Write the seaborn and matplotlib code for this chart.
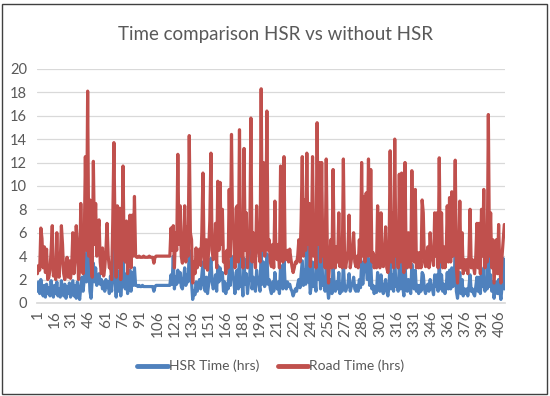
import numpy as np
import pandas as pd
import matplotlib
matplotlib.use('Agg')
import matplotlib.pyplot as plt
import seaborn as sns
from matplotlib.patches import Rectangle

# values, one per trip (index 1..410)
road_time = [
    2.5, 3.2, 2.8, 6.4, 5.5, 3.0, 4.8, 2.6, 4.6, 2.0,
    2.2, 2.8, 4.5, 6.6, 2.3, 3.0, 2.0, 6.0, 2.4, 2.2,
    3.5, 6.6, 5.0, 2.5, 2.0, 3.2, 3.9, 2.2, 3.6, 2.1,
    3.0, 6.0, 2.5, 3.8, 6.6, 5.0, 2.0, 2.8, 8.5, 4.0,
    2.5, 5.0, 12.5, 4.5, 18.1, 4.0, 8.8, 3.5, 2.2, 12.1,
    5.0, 8.5, 4.0, 6.0, 7.1, 3.5, 2.5, 4.7, 2.3, 3.0,
    4.5, 6.8, 4.0, 3.0, 3.3, 2.0, 7.0, 13.7, 6.0, 2.2,
    8.3, 3.0, 8.1, 2.0, 4.5, 11.7, 4.0, 3.5, 7.0, 2.5,
    5.5, 7.5, 3.0, 7.5, 4.0, 9.1, 4.0, 3.9, 3.9, 4.0,
    3.9, 3.9, 3.9, 4.0, 3.9, 3.9, 3.9, 3.9, 4.0, 3.9,
    3.9, 3.9, 3.4, 3.9, 4.0, 4.0, 4.0, 4.0, 4.0, 4.0,
    4.0, 4.0, 4.0, 4.0, 4.0, 4.0, 4.0, 6.4, 4.5, 6.6,
    3.0, 6.0, 4.5, 12.7, 5.0, 8.3, 4.0, 3.4, 5.0, 8.3,
    3.5, 6.5, 4.0, 14.3, 6.0, 5.4, 1.7, 3.5, 2.5, 4.7,
    3.0, 4.0, 4.6, 3.2, 6.0, 11.1, 4.0, 3.0, 5.4, 2.8,
    4.5, 7.0, 12.8, 4.5, 3.7, 4.0, 6.8, 3.0, 10.4, 4.5,
    10.3, 5.0, 8.0, 3.5, 4.3, 2.5, 4.5, 3.0, 9.7, 4.0,
    14.4, 6.0, 5.4, 3.0, 8.1, 8.3, 3.5, 14.8, 4.0, 5.4,
    3.0, 13.2, 4.5, 7.7, 3.0, 4.6, 5.0, 15.8, 3.5, 6.0,
    4.0, 3.0, 8.3, 5.0, 4.3, 3.5, 18.3, 4.5, 12.0, 4.0,
    5.0, 16.4, 4.5, 5.4, 3.5, 3.1, 5.0, 3.0, 8.7, 4.0,
    3.7, 5.0, 3.0, 11.7, 5.4, 3.5, 12.5, 4.0, 3.7, 4.5,
    3.5, 4.6, 3.8, 3.1, 2.6, 3.0, 3.5, 3.4, 4.0, 5.4,
    3.5, 7.0, 12.5, 4.0, 8.8, 4.5, 12.8, 5.0, 8.5, 3.1,
    4.5, 12.5, 4.0, 5.4, 3.0, 15.4, 5.0, 12.0, 3.5, 12.0,
    4.0, 5.4, 3.0, 12.3, 4.0, 1.7, 3.5, 5.4, 3.0, 11.4,
    4.0, 3.0, 4.8, 3.5, 7.7, 3.1, 4.5, 3.0, 12.3, 4.0,
    3.0, 3.7, 4.5, 7.5, 3.0, 3.7, 4.5, 6.0, 3.5, 3.1,
    4.0, 3.0, 5.4, 3.5, 12.0, 4.0, 9.1, 3.5, 9.4, 4.0,
    12.3, 4.0, 11.4, 3.5, 4.3, 3.0, 4.0, 3.0, 8.3, 3.5,
    3.0, 7.7, 3.5, 3.1, 4.0, 6.5, 3.0, 2.6, 4.0, 13.0,
    3.5, 7.7, 3.0, 14.0, 4.0, 6.0, 3.0, 11.0, 3.5, 11.1,
    4.0, 2.6, 12.0, 3.5, 3.0, 6.0, 3.7, 3.0, 11.3, 4.0,
    3.5, 9.7, 3.0, 4.3, 3.0, 4.3, 3.0, 8.8, 7.7, 3.5,
    3.1, 4.0, 4.8, 3.0, 6.0, 4.0, 3.7, 3.2, 7.7, 4.0,
    7.7, 3.0, 12.4, 3.5, 7.7, 3.0, 4.8, 3.0, 4.0, 8.3,
    3.5, 9.0, 3.5, 9.5, 4.0, 6.0, 12.2, 3.0, 1.7, 4.0,
    8.7, 3.0, 6.0, 2.5, 3.7, 2.8, 3.7, 2.5, 4.0, 8.0,
    3.0, 3.7, 3.1, 2.5, 4.0, 6.8, 3.0, 6.8, 2.5, 8.0,
    4.0, 9.7, 3.0, 5.4, 3.5, 16.1, 4.0, 7.7, 3.0, 5.4,
    1.7, 3.5, 5.4, 2.5, 6.7, 3.0, 1.7, 4.0, 5.4, 6.7,
]

hsr_time = [
    1.0, 1.8, 0.8, 2.0, 1.2, 0.6, 1.5, 0.5, 1.6, 0.8,
    1.3, 0.6, 1.9, 1.0, 0.5, 1.5, 0.8, 1.8, 0.6, 1.2,
    0.5, 1.9, 1.0, 0.6, 1.6, 0.4, 1.4, 0.8, 1.7, 0.5,
    1.2, 1.9, 0.6, 1.5, 0.4, 1.8, 0.9, 0.3, 1.4, 2.2,
    1.0, 2.0, 4.2, 1.8, 5.0, 3.5, 1.0, 0.4, 2.0, 3.4,
    1.8, 3.0, 1.5, 2.2, 2.5, 1.6, 2.0, 1.2, 1.8, 1.0,
    2.0, 1.3, 1.8, 0.8, 2.3, 1.0, 2.5, 5.2, 2.0, 0.5,
    2.8, 1.0, 2.6, 0.6, 1.8, 4.0, 1.5, 1.2, 2.5, 0.8,
    2.0, 2.8, 1.0, 2.6, 1.5, 3.0, 1.5, 1.5, 1.4, 1.5,
    1.4, 1.4, 1.5, 1.4, 1.4, 1.4, 1.4, 1.4, 1.4, 1.4,
    1.4, 1.4, 1.0, 1.4, 1.5, 1.5, 1.5, 1.5, 1.5, 1.5,
    1.5, 1.5, 1.5, 1.5, 1.5, 1.5, 1.5, 2.4, 1.6, 4.0,
    1.2, 2.2, 1.6, 2.8, 1.8, 2.6, 1.4, 1.2, 2.0, 3.0,
    1.5, 2.4, 1.8, 4.5, 2.5, 1.8, 0.3, 1.0, 0.7, 1.8,
    1.0, 1.6, 2.0, 1.2, 2.4, 3.5, 1.5, 1.0, 2.2, 0.8,
    1.6, 2.6, 3.8, 1.8, 1.2, 1.6, 2.4, 1.0, 3.2, 1.8,
    3.0, 2.0, 2.6, 1.0, 1.8, 0.8, 1.6, 1.2, 3.0, 1.5,
    4.0, 2.2, 2.0, 0.8, 2.6, 2.8, 1.2, 4.2, 1.4, 2.0,
    0.6, 3.8, 1.6, 2.5, 0.8, 1.8, 2.2, 6.2, 1.2, 2.2,
    1.5, 1.0, 2.8, 1.8, 1.6, 1.0, 4.6, 1.6, 3.5, 1.4,
    1.8, 4.2, 1.6, 2.0, 1.2, 0.8, 1.8, 1.0, 2.6, 1.5,
    1.2, 1.8, 0.8, 3.2, 2.0, 1.2, 3.6, 1.6, 1.2, 1.8,
    1.4, 1.6, 1.2, 1.0, 0.6, 0.9, 1.2, 1.0, 1.6, 2.0,
    1.3, 2.4, 3.6, 1.5, 2.8, 1.6, 7.8, 1.8, 3.0, 0.8,
    1.6, 3.5, 1.4, 2.0, 1.0, 6.2, 2.0, 3.6, 1.2, 4.4,
    1.5, 2.0, 1.0, 3.5, 1.4, 0.4, 1.2, 2.0, 0.8, 3.3,
    1.5, 1.0, 1.8, 1.2, 2.6, 0.8, 1.6, 1.0, 3.4, 1.4,
    1.0, 1.3, 1.6, 2.5, 1.0, 1.4, 1.6, 2.2, 1.2, 1.0,
    1.5, 1.0, 2.0, 1.3, 3.5, 1.6, 3.0, 4.8, 3.2, 2.0,
    3.8, 1.5, 3.4, 1.2, 1.5, 0.8, 1.4, 0.9, 2.6, 1.2,
    1.0, 2.4, 1.2, 0.8, 1.4, 2.0, 1.0, 0.6, 1.4, 3.8,
    1.2, 2.4, 1.0, 4.0, 1.4, 2.0, 1.0, 3.2, 1.2, 3.4,
    1.4, 0.6, 3.5, 1.2, 1.0, 2.0, 1.2, 0.8, 3.3, 1.4,
    1.2, 2.8, 1.0, 1.5, 0.8, 1.5, 1.0, 2.6, 2.4, 1.2,
    0.8, 1.4, 1.6, 1.0, 2.0, 1.4, 1.2, 0.7, 2.4, 1.4,
    2.4, 1.0, 3.6, 1.2, 2.4, 1.0, 1.6, 0.8, 1.4, 2.6,
    1.2, 2.8, 1.2, 3.0, 1.4, 2.0, 4.4, 1.0, 0.4, 1.4,
    2.6, 0.8, 2.0, 0.6, 1.2, 0.8, 1.2, 0.6, 1.4, 2.4,
    1.0, 1.2, 0.8, 0.6, 1.4, 2.2, 1.0, 2.2, 0.8, 2.4,
    1.4, 3.0, 1.0, 1.8, 1.2, 6.4, 1.4, 2.4, 1.0, 1.8,
    0.4, 1.2, 1.8, 0.8, 2.0, 1.0, 0.3, 1.4, 3.8, 1.2,
]

trip = list(range(1, len(road_time) + 1))
x_ticks = list(range(1, 407, 15))
y_ticks = list(range(0, 21, 2))

df = pd.DataFrame({
    'trip': trip * 2,
    'hours': hsr_time + road_time,
    'series': ['HSR Time (hrs)'] * len(trip) + ['Road Time (hrs)'] * len(trip),
})

sns.set_theme(style='white')
plt.rcParams['font.family'] = ['Lato', 'DejaVu Sans']

fig = plt.figure(figsize=(5.5, 3.96), dpi=100)
ax = fig.add_axes([0.067, 0.235, 0.851, 0.591])

sns.lineplot(data=df, x='trip', y='hours', hue='series',
             palette=['#4F81BD', '#C0504D'], linewidth=2.3, ax=ax,
             legend=True)

ax.set_xlim(0.5, len(trip) + 0.5)
ax.set_ylim(0, 20)
ax.set_yticks(y_ticks)
ax.set_xticks(x_ticks)
ax.set_xticklabels([str(t) for t in x_ticks], rotation=90)
ax.tick_params(axis='x', labelsize=11, labelcolor='#595959', length=0, pad=5)
ax.tick_params(axis='y', labelsize=10.5, labelcolor='#595959', length=0, pad=7)
ax.yaxis.grid(True, color='#D9D9D9', linewidth=0.9)
ax.set_axisbelow(True)
for side in ['top', 'right', 'left']:
    ax.spines[side].set_visible(False)
ax.spines['bottom'].set_color('#D9D9D9')
ax.set_xlabel('')
ax.set_ylabel('')

fig.suptitle('Time comparison HSR vs without HSR', y=0.935, fontsize=13.5,
             color='#595959')

leg = ax.legend(loc='center', bbox_to_anchor=(0.5, -0.27), ncol=2,
                frameon=False, fontsize=10, handlelength=2.2,
                columnspacing=1.3, handletextpad=0.1)
for line in leg.get_lines():
    line.set_linewidth(3.5)
for t in leg.get_texts():
    t.set_color('#595959')

fig.patches.append(Rectangle((0.004, 0.006), 0.99, 0.985, transform=fig.transFigure,
                             fill=False, edgecolor='#404040', linewidth=1.0))

fig.savefig('out.png', dpi=100)
